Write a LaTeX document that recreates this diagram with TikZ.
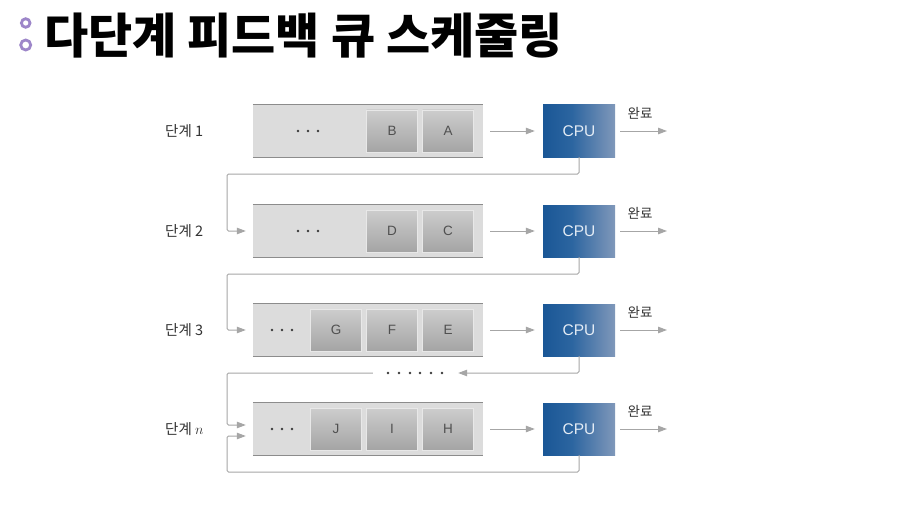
\documentclass[tikz,border=0pt]{standalone}
\usepackage{fontspec}
\setmainfont{Liberation Sans}
\newfontfamily\kr{Noto Sans CJK KR}
\usetikzlibrary{arrows.meta}
\definecolor{bulletc}{HTML}{9D86C9}
\definecolor{barfill}{HTML}{DCDCDC}
\definecolor{barline}{HTML}{8C8C8C}
\definecolor{itemtop}{HTML}{CDCDCD}
\definecolor{itembot}{HTML}{A4A4A4}
\definecolor{itemedge}{HTML}{E8E8E8}
\definecolor{itemtext}{HTML}{505050}
\definecolor{cpuL}{HTML}{1A5796}
\definecolor{cpuM}{HTML}{2C65A0}
\definecolor{cpuR}{HTML}{8098BA}
\definecolor{cputext}{HTML}{E4ECF5}
\definecolor{linegray}{HTML}{A6A6A6}
\definecolor{labeltext}{HTML}{333333}
\definecolor{dotc}{HTML}{3A3A3A}
\pgfdeclarehorizontalshading{cpushade}{100bp}{color(0bp)=(cpuL); color(25bp)=(cpuL); color(45bp)=(cpuM); color(75bp)=(cpuR); color(100bp)=(cpuR)}
\tikzset{
  bar/.style={rectangle, fill=barfill, minimum width=230pt, minimum height=52pt, inner sep=0pt},
  barrule/.style={draw=barline, line width=1.3pt},
  item/.style={rectangle, top color=itemtop, bottom color=itembot, draw=itemedge, line width=0.8pt,
    minimum width=51pt, minimum height=42pt, inner sep=0pt, font=\fontsize{13.5}{15}\selectfont, text=itemtext},
  cpu/.style={rectangle, shading=cpushade, minimum width=72pt, minimum height=52pt, inner sep=0pt,
    text=cputext, font=\fontsize{15.5}{17}\selectfont},
  lbl/.style={anchor=west, font=\kr\fontsize{14.5}{16}\selectfont, text=labeltext, inner sep=0pt},
  done/.style={font=\kr\fontsize{13.5}{15}\selectfont, text=labeltext, inner sep=0pt},
  conn/.style={draw=linegray, line width=1pt, rounded corners=1.5pt, -{Triangle[length=9pt,width=6.5pt]}},
  dotfill/.style={fill=dotc},
}
\begin{document}
\begin{tikzpicture}[x=1pt,y=-1pt]
\useasboundingbox[fill=white] (0,0) rectangle (922,519);
% title
\draw[bulletc, line width=2.8pt] (25.7,23) circle (4.3pt);
\draw[bulletc, line width=2.8pt] (25.7,45) circle (5pt);
\node[anchor=base west, inner sep=0pt, font=\kr\bfseries\fontsize{48}{52}\selectfont] (title) at (44,54) {다단계 피드백 큐 스케줄링};

% rows
\foreach \r/\y/\lab in {1/131/{단계 1}, 2/231/{단계 2}, 3/330/{단계 3}, n/429/{단계 $n$}} {
  \node[bar] (bar\r) at (368,\y) {};
  \draw[barrule] (bar\r.north west) -- (bar\r.north east);
  \draw[barrule] (bar\r.south west) -- (bar\r.south east);
  \node[lbl] (lab\r) at (165,\y) {\lab};
  \node[cpu] (cpu\r) at (579,\y) {CPU};
  \draw[conn, shorten <=7pt, shorten >=8pt] (bar\r.east) -- (cpu\r.west);
  \coordinate (out\r) at (667,\y);
  \draw[conn, shorten <=5pt] (cpu\r.east) -- (out\r);
  \node[done] (done\r) at (640,\y-18) {완료};
}
% items
\node[item] (B) at (392,131) {B};
\node[item] (A) at (448,131) {A};
\node[item] (D) at (392,231) {D};
\node[item] (C) at (448,231) {C};
\node[item] (G) at (336,330) {G};
\node[item] (F) at (392,330) {F};
\node[item] (E) at (448,330) {E};
\node[item] (J) at (336,429) {J};
\node[item] (I) at (392,429) {I};
\node[item] (H) at (448,429) {H};
% dots inside bars
\foreach \y in {131,231} { \foreach \x in {298,308,318} { \fill[dotfill] (\x,\y) circle (1.4pt); } }
\foreach \y in {330,429} { \foreach \x in {272,282,292} { \fill[dotfill] (\x,\y) circle (1.4pt); } }
% six dots between row 3 and row n
\node[minimum width=70pt, minimum height=8pt, inner sep=0pt] (dd) at (415,373) {};
\foreach \x in {388,399,410,420,431,442} { \fill[dotfill] (\x,373) circle (1.4pt); }

% feedback connectors
\coordinate (k1) at (227,174);
\coordinate (k2) at (227,274);
\coordinate (k3) at (227,373);
\coordinate (k4) at (227,472);
\draw[conn, shorten >=7pt] (cpu1.south) |- (k1) |- (bar2.west);
\draw[conn, shorten >=7pt] (cpu2.south) |- (k2) |- (bar3.west);
\draw[conn, shorten >=8pt] (cpu3.south) |- (dd.east);
\draw[conn, shorten <=7pt, shorten >=7pt] (dd.west) -- (k3) |- ([yshift=4pt]barn.west);
\draw[conn, shorten >=7pt] (cpun.south) |- (k4) |- ([yshift=-7pt]barn.west);
\end{tikzpicture}
\end{document}
